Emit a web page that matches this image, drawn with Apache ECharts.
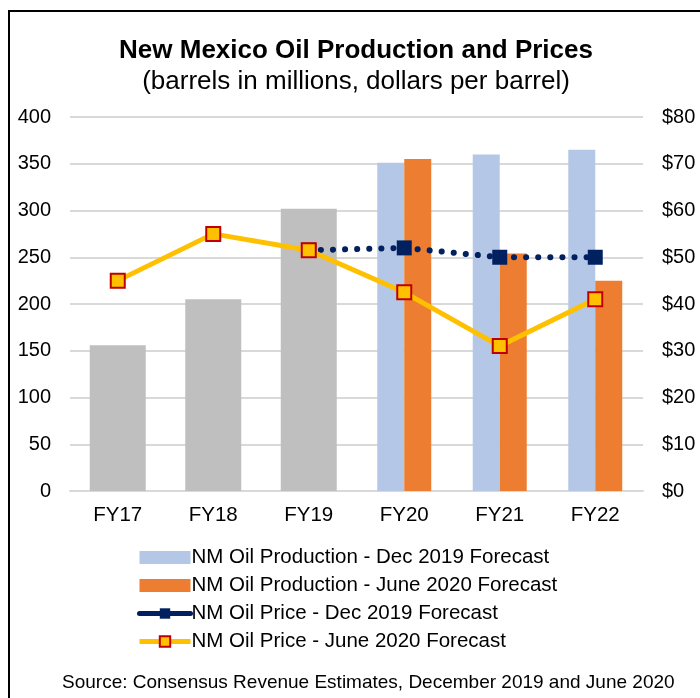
<!DOCTYPE html>
<html>
<head>
<meta charset="utf-8">
<script src="https://cdn.jsdelivr.net/npm/echarts@6/dist/echarts.min.js"></script>
<style>
  html, body { margin: 0; padding: 0; background: #fff; }
  #main { width: 700px; height: 698px; }
</style>
</head>
<body>
<div id="main"></div>
<script>
// categories and values
var years = ['FY17', 'FY18', 'FY19', 'FY20', 'FY21', 'FY22'];
var actualProd = [156, 205, 302, null, null, null];
var decProd = [null, null, null, 351, 360, 365];
var juneProd = [null, null, null, 355, 254, 225];
var decPrice = [null, null, 51.5, 52, 50, 50];
var junePrice = [45, 55, 51.5, 42.5, 31, 41];

var FONT = 'Liberation Sans, Arial, sans-serif';

var chart = echarts.init(document.getElementById('main'));

chart.setOption({
    animation: false,
    textStyle: { fontFamily: FONT },
    title: [
        {
            text: 'New Mexico Oil Production and Prices',
            left: 351,
            textAlign: 'center',
            top: 33,
            textStyle: { fontSize: 26, fontWeight: 'bold', color: '#000', fontFamily: FONT }
        },
        {
            text: '(barrels in millions, dollars per barrel)',
            left: 351,
            textAlign: 'center',
            top: 64,
            textStyle: { fontSize: 26, fontWeight: 'normal', color: '#000', fontFamily: FONT }
        }
    ],
    grid: { left: 70, right: 57, top: 117, bottom: 207 },
    legend: {
        orient: 'vertical',
        left: 132,
        top: 542,
        itemWidth: 51,
        itemHeight: 13,
        itemGap: 7,
        textStyle: { fontSize: 20.5, color: '#000', fontFamily: FONT, padding: [0, 0, 0, -4] },
        data: [
            { name: 'NM Oil Production - Dec 2019 Forecast', icon: 'rect' },
            { name: 'NM Oil Production - June 2020 Forecast', icon: 'rect' },
            { name: 'NM Oil Price - Dec 2019 Forecast', lineStyle: { type: 'solid', width: 5 } },
            { name: 'NM Oil Price - June 2020 Forecast', lineStyle: { width: 5 } }
        ]
    },
    xAxis: [
        {
            type: 'category',
            data: years,
            axisLine: { lineStyle: { color: '#d9d9d9', width: 2 } },
            axisTick: { show: false },
            axisLabel: { fontSize: 20.5, color: '#000', margin: 14 }
        },
        {
            type: 'category',
            data: years,
            show: false
        }
    ],
    yAxis: [
        {
            type: 'value',
            min: 0,
            max: 400,
            interval: 50,
            axisLine: { show: false },
            axisTick: { show: false },
            axisLabel: { fontSize: 20, color: '#000', margin: 19 },
            splitLine: { lineStyle: { color: '#d9d9d9', width: 2 } }
        },
        {
            type: 'value',
            min: 0,
            max: 80,
            interval: 10,
            axisLine: { show: false },
            axisTick: { show: false },
            axisLabel: { fontSize: 20, color: '#000', margin: 19, formatter: '${value}' },
            splitLine: { show: false }
        }
    ],
    series: [
        {
            name: 'NM Oil Production - Actual',
            type: 'bar',
            xAxisIndex: 1,
            data: actualProd,
            barWidth: 56,
            itemStyle: { color: '#bfbfbf' }
        },
        {
            name: 'NM Oil Production - Dec 2019 Forecast',
            type: 'bar',
            data: decProd,
            barWidth: 27,
            barGap: '0%',
            itemStyle: { color: '#b4c7e7' }
        },
        {
            name: 'NM Oil Production - June 2020 Forecast',
            type: 'bar',
            data: juneProd,
            barWidth: 27,
            barGap: '0%',
            itemStyle: { color: '#ed7d31' }
        },
        {
            name: 'NM Oil Price - Dec 2019 Forecast',
            type: 'line',
            yAxisIndex: 1,
            data: decPrice,
            symbol: 'rect',
            symbolSize: 15,
            showSymbol: true,
            itemStyle: { color: '#002060' },
            lineStyle: { color: '#002060', width: 6, type: [0.1, 12], cap: 'round' },
            z: 3
        },
        {
            name: 'NM Oil Price - June 2020 Forecast',
            type: 'line',
            yAxisIndex: 1,
            data: junePrice,
            symbol: 'rect',
            symbolSize: 14,
            itemStyle: { color: '#ffc000', borderColor: '#c00000', borderWidth: 2 },
            lineStyle: { color: '#ffc000', width: 5 },
            z: 4
        }
    ],
    graphic: [
        {
            type: 'rect',
            shape: { x: 9, y: 11, width: 720, height: 720 },
            style: { fill: 'none', stroke: '#000', lineWidth: 2 },
            silent: true
        },
        {
            type: 'text',
            left: 62,
            top: 673,
            style: {
                text: 'Source: Consensus Revenue Estimates, December 2019 and June 2020',
                font: '19px ' + FONT,
                fill: '#000'
            }
        }
    ]
});
</script>
</body>
</html>
